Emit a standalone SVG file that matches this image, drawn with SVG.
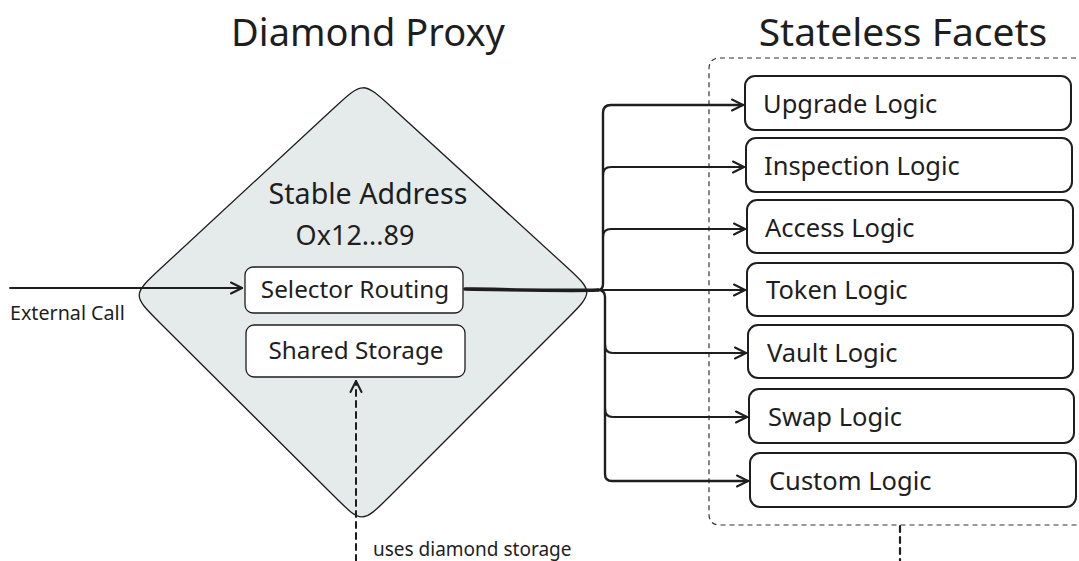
<svg xmlns="http://www.w3.org/2000/svg" width="1079" height="561" viewBox="0 0 1079 561">
  <style>
    text { font-family: "Noto Sans", "Open Sans", "Liberation Sans", sans-serif; fill: #1e1e1e; }
    .title { font-size: 38px; text-anchor: middle; }
    .facet rect { fill: #ffffff; stroke: #1e1e1e; stroke-width: 2; }
    .facet text { font-size: 25.5px; }
    .inner rect { fill: #ffffff; stroke: #1e1e1e; stroke-width: 1.3; }
    .inner text { font-size: 24.3px; text-anchor: middle; }
    .conn { fill: none; stroke: #1e1e1e; stroke-linecap: round; stroke-linejoin: round; }
  </style>
  <defs>
    <marker id="arrow" markerWidth="14" markerHeight="14" refX="12" refY="7" orient="auto" markerUnits="userSpaceOnUse">
      <path d="M1,1.5 L12,7 L1,12.5" fill="none" stroke="#1e1e1e" stroke-width="2" stroke-linecap="round" stroke-linejoin="round"/>
    </marker>
  </defs>
  <rect width="1079" height="561" fill="#ffffff"/>

  <text class="title" x="368" y="46">Diamond Proxy</text>
  <text class="title" x="903" y="46" style="font-size:39px">Stateless Facets</text>

  <g id="facets-container">
    <path d="M1085,58 L720,58 Q709,58 709,69 L709,514 Q709,525 720,525 L1085,525" fill="none" stroke="#333" stroke-width="1.2" stroke-dasharray="5 4"/>
  </g>

  <g id="diamond-proxy">
    <path d="M333.7,108.2 C363,81 363,81 392.5,108 L564.5,265 C594,292 594,292 565.7,320.3 L390.3,495.7 C362,524 362,524 333.7,495.8 L160.3,323.2 C132,295 132,295 161.4,267.8 Z" fill="#e5eaea" stroke="#1e1e1e" stroke-width="1.3"/>
    <text x="368" y="204" style="font-size:28.6px;text-anchor:middle">Stable Address</text>
    <text x="355" y="245" style="font-size:27px;text-anchor:middle">Ox12...89</text>
  </g>

  <g id="selector-routing" class="inner">
    <rect x="245" y="267" width="218" height="46" rx="8"/>
    <text x="355" y="298">Selector Routing</text>
  </g>
  <g id="shared-storage" class="inner">
    <rect x="246" y="325" width="219" height="52" rx="8"/>
    <text x="356" y="359">Shared Storage</text>
  </g>

  <g id="upgrade-logic" class="facet">
    <rect x="745" y="76" width="326" height="54" rx="10"/>
    <text x="763" y="113">Upgrade Logic</text>
  </g>
  <g id="inspection-logic" class="facet">
    <rect x="746" y="138" width="326" height="54" rx="10"/>
    <text x="764" y="175">Inspection Logic</text>
  </g>
  <g id="access-logic" class="facet">
    <rect x="747" y="200" width="326" height="53" rx="10"/>
    <text x="765" y="237">Access Logic</text>
  </g>
  <g id="token-logic" class="facet">
    <rect x="747" y="263" width="326" height="53" rx="10"/>
    <text x="766" y="299">Token Logic</text>
  </g>
  <g id="vault-logic" class="facet">
    <rect x="748" y="325" width="325" height="53" rx="10"/>
    <text x="767" y="362">Vault Logic</text>
  </g>
  <g id="swap-logic" class="facet">
    <rect x="749" y="389" width="325" height="54" rx="10"/>
    <text x="768" y="426">Swap Logic</text>
  </g>
  <g id="custom-logic" class="facet">
    <rect x="750" y="453" width="326" height="54" rx="10"/>
    <text x="769" y="490">Custom Logic</text>
  </g>

  <g id="connectors">
    <path class="conn" d="M10,288 L242,288" stroke-width="1.8" marker-end="url(#arrow)"/>
    <text x="10" y="320" style="font-size:19.7px">External Call</text>

    <path class="conn" d="M465,289 C520,290 570,291 598,290" stroke-width="3.6"/>
    <path class="conn" d="M598,290 Q603,290 603,284 L603,113 Q603,105 611,105 L743,105" stroke-width="2.4" marker-end="url(#arrow)"/>
    <path class="conn" d="M603,175 Q603,167 611,167 L744,167" stroke-width="2.2" marker-end="url(#arrow)"/>
    <path class="conn" d="M603,237 Q603,229 611,229 L745,229" stroke-width="2.2" marker-end="url(#arrow)"/>
    <path class="conn" d="M598,290 L745,290" stroke-width="1.8" marker-end="url(#arrow)"/>
    <path class="conn" d="M598,290 Q605,290 605,297 L605,474 Q605,481 612,481 L748,481" stroke-width="2.4" marker-end="url(#arrow)"/>
    <path class="conn" d="M605,345 Q605,353 613,353 L746,353" stroke-width="2.2" marker-end="url(#arrow)"/>
    <path class="conn" d="M605,409 Q605,417 613,417 L747,417" stroke-width="2.2" marker-end="url(#arrow)"/>

    <path class="conn" d="M356,561 L356,381" stroke-width="2" stroke-dasharray="6 5" stroke-linecap="butt" marker-end="url(#arrow)"/>
    <text x="373" y="556" style="font-size:19px">uses diamond storage</text>

    <path class="conn" d="M900,526 L900,561" stroke-width="2.2" stroke-dasharray="6 5" stroke-linecap="butt"/>
  </g>
</svg>
